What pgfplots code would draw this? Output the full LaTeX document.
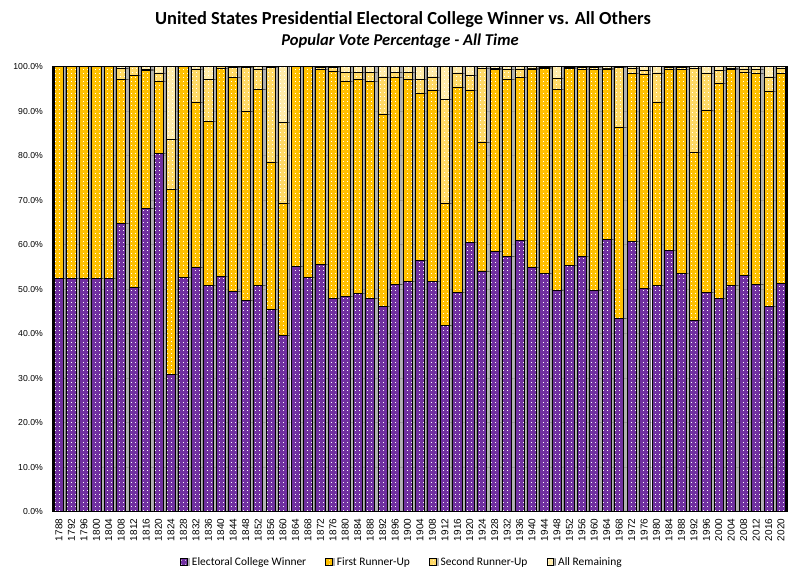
\documentclass[border=0pt]{standalone}
\usepackage{fontspec}
\setmainfont{Carlito}
\newfontfamily\tickfont{Liberation Sans}
\usepackage{pgfplots}
\usepackage{pgfplotstable}
\pgfplotsset{compat=1.18}
\usetikzlibrary{patterns.meta,shadows}
\definecolor{cwin}{HTML}{7030A0}
\definecolor{cfirst}{HTML}{FFC000}
\definecolor{csecond}{HTML}{FFD966}
\definecolor{crest}{HTML}{FFEBAA}
\tikzdeclarepattern{
  name=sparsedots,
  type=uncolored,
  bounding box={(0bp,0bp) and (3.6bp,3.6bp)},
  tile size={(3.6bp,3.6bp)},
  code={\pgfpathrectangle{\pgfpoint{1.3bp}{1.3bp}}{\pgfpoint{0.8bp}{0.8bp}}\pgfusepath{fill}}
}
\pgfplotstableread{
year W F S R
1788 52.5 47.5 0 0
1792 52.5 47.5 0 0
1796 52.5 47.5 0 0
1800 52.5 47.5 0 0
1804 52.5 47.5 0 0
1808 64.8 32.4 2.5 0.3
1812 50.4 47.7 1.9 0.0
1816 68.2 31.0 0.2 0.6
1820 80.6 16.2 1.8 1.4
1824 30.9 41.6 11.2 16.3
1828 52.6 47.4 0 0
1832 54.9 37.0 7.6 0.5
1836 50.9 36.7 9.6 2.8
1840 52.8 46.9 0.3 0
1844 49.5 48.1 2.3 0.1
1848 47.4 42.5 10.0 0.1
1852 50.9 44.0 4.6 0.5
1856 45.5 32.9 21.5 0.1
1860 39.7 29.5 18.2 12.6
1864 55.1 44.9 0 0
1868 52.6 47.4 0 0
1872 55.6 43.9 0.3 0.2
1876 48.0 51.0 0.9 0.1
1880 48.4 48.4 2.0 1.2
1884 49.0 48.2 1.6 1.2
1888 48.0 48.6 2.2 1.2
1892 46.1 43.2 8.4 2.3
1896 51.0 46.7 1.1 1.2
1900 51.7 45.5 1.6 1.2
1904 56.5 37.6 3.1 2.8
1908 51.7 43.0 3.0 2.3
1912 41.9 27.4 23.3 7.4
1916 49.3 46.1 3.2 1.4
1920 60.5 34.2 3.4 1.9
1924 54.1 29.0 16.6 0.3
1928 58.4 40.9 0.4 0.3
1932 57.4 39.8 2.1 0.7
1936 60.9 36.6 2.0 0.5
1940 54.9 44.6 0.2 0.3
1944 53.5 46.1 0.2 0.2
1948 49.8 45.1 2.4 2.7
1952 55.3 44.3 0.2 0.2
1956 57.4 42.0 0.4 0.2
1960 49.8 49.6 0.4 0.2
1964 61.1 38.4 0.2 0.3
1968 43.4 42.9 13.6 0.1
1972 60.8 37.6 1.3 0.3
1976 50.2 48.0 0.9 0.9
1980 50.9 41.0 6.7 1.4
1984 58.8 40.7 0.3 0.2
1988 53.5 45.8 0.5 0.2
1992 43.0 37.7 18.9 0.4
1996 49.3 40.8 8.3 1.6
2000 48.0 48.3 2.8 0.9
2004 50.9 48.4 0.4 0.3
2008 53.1 45.7 0.7 0.5
2012 51.1 47.3 0.9 0.7
2016 46.2 48.3 3.2 2.3
2020 51.3 47.1 1.2 0.4
}\data
\begin{document}
\begin{tikzpicture}
\path[use as bounding box] (0,0) rectangle (800bp,580bp);
\begin{axis}[
  at={(53bp,68.3bp)}, anchor=south west,
  scale only axis, width=734bp, height=445bp,
  ybar stacked, bar width=9.2bp,
  xmin=1786.08, xmax=2021.92,
  ymin=0, ymax=100,
  ytick={0,10,...,100},
  xtick=data,
  major tick length=0pt,
  ymajorgrids, grid style={draw=black!13, line width=0.6bp},
  axis line style={black, line width=1.1bp},
  /pgf/number format/assume math mode=true,
  xticklabel style={font=\tickfont\fontsize{10}{11}\selectfont, rotate=90, anchor=east, inner sep=0pt, /pgf/number format/1000 sep={}},
  xticklabel shift=7bp,
  yticklabel style={font=\tickfont\fontsize{8.7}{10}\selectfont, anchor=east, inner sep=0pt},
  yticklabel shift=10bp,
  yticklabel={\pgfmathprintnumber[fixed,fixed zerofill,precision=1]{\tick}\%},
  every axis plot/.append style={draw=black, line width=0.8bp,
     drop shadow={shadow xshift=2.2bp, shadow yshift=0bp, opacity=0.3, fill=black},
     postaction={pattern=sparsedots, pattern color=white}},
  legend columns=4,
  legend style={at={(0.4755,-0.113)}, anchor=center, draw=none, fill=none,
     font=\fontsize{11.5}{13}\selectfont,
     /tikz/every even column/.append style={column sep=17bp},
     /tikz/every odd column/.append style={column sep=2.5bp}},
  legend image code/.code={\draw[#1, line width=0.6bp] (0bp,-3.3bp) rectangle (6.6bp,3.3bp);},
]
\addplot[fill=cwin] table[x=year,y=W] {\data};
\addlegendentry{Electoral College Winner}
\addplot[fill=cfirst] table[x=year,y=F] {\data};
\addlegendentry{First Runner-Up}
\addplot[fill=csecond] table[x=year,y=S] {\data};
\addlegendentry{Second Runner-Up}
\addplot[fill=crest] table[x=year,y=R] {\data};
\addlegendentry{All Remaining}
\end{axis}
\node[font=\bfseries\fontsize{18.5}{21}\selectfont] at (403bp,560bp) {United States Presidential Electoral College Winner vs. All Others};
\node[font=\bfseries\itshape\fontsize{16.6}{19}\selectfont] at (400bp,538.5bp) {Popular Vote Percentage - All Time};
\end{tikzpicture}
\end{document}
